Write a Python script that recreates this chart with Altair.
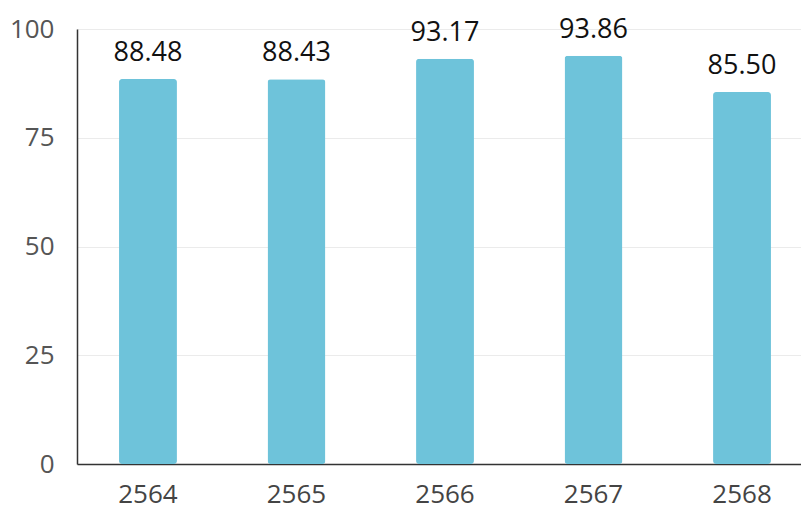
import altair as alt
import pandas as pd

years = ["2564", "2565", "2566", "2567", "2568"]
values = [88.48, 88.43, 93.17, 93.86, 85.50]
y_ticks = [0, 25, 50, 75, 100]

df = pd.DataFrame({"year": years, "value": values})
df["label"] = [f"{v:.2f}" for v in values]

FONT = "Open Sans"

x = alt.X(
    "year:N",
    sort=years,
    scale=alt.Scale(range=[0, 736], paddingInner=0.61, paddingOuter=0.283),
    axis=alt.Axis(
        title=None, labelAngle=0, ticks=False, labelPadding=17,
        labelFontSize=26, labelColor="#444444", labelFont=FONT,
        domainColor="#333333", domainWidth=1.5, grid=False,
    ),
)
y = alt.Y(
    "value:Q",
    scale=alt.Scale(domain=[0, 100], nice=False),
    axis=alt.Axis(
        title=None, values=y_ticks, ticks=False, labelPadding=23,
        labelFontSize=26, labelColor="#555555", labelFont=FONT,
        domainColor="#333333", domainWidth=1.5,
        grid=True, gridColor="#ebebeb", gridWidth=1,
    ),
)

bars = alt.Chart(df).mark_bar(color="#6ec3da", cornerRadius=3).encode(x=x, y=y)
text = alt.Chart(df).mark_text(
    baseline="bottom", dy=-12, fontSize=27, font=FONT, color="#111111"
).encode(x=x, y=y, text="label:N")

chart = (bars + text).properties(
    width=724, height=435,
    autosize=alt.AutoSizeParams(type="none"),
    padding={"left": 69, "top": 21, "right": 0, "bottom": 55},
).configure_view(stroke=None)

chart.save("out.html", embed_options={"renderer": "svg", "actions": False})
